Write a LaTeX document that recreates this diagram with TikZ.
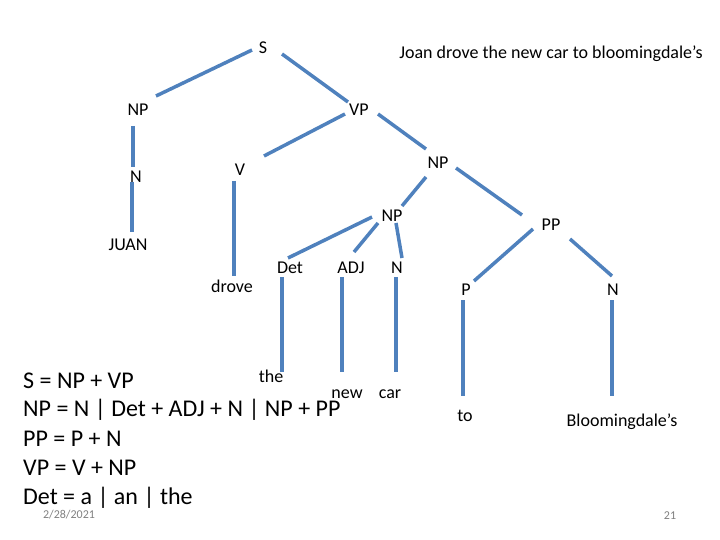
\documentclass[tikz,border=0pt]{standalone}
\usepackage{fontspec}
\setmainfont{Carlito}
\begin{document}
\begin{tikzpicture}[x=1pt,y=-1pt,
  lbl/.style={inner sep=0pt,font=\fontsize{18}{21}\selectfont},
  rule/.style={inner sep=0pt,anchor=west,font=\fontsize{24}{28}\selectfont},
  small/.style={inner sep=0pt,text=gray,font=\fontsize{12}{14}\selectfont},
  edge/.style={draw=treeblue,line width=3.5pt}]
\definecolor{treeblue}{HTML}{4F81BD}
\useasboundingbox (0,0) rectangle (720,540);
% labels
\node[lbl] (S) at (263,48) {S};
\node[lbl] (sent) at (551,54) {Joan drove the new car to bloomingdale’s};
\node[lbl] (NP1) at (138,110) {NP};
\node[lbl] (VP) at (359,110) {VP};
\node[lbl] (N1) at (136,177) {N};
\node[lbl] (V) at (240,170) {V};
\node[lbl] (NP2) at (438,163) {NP};
\node[lbl] (NP3) at (392,216) {NP};
\node[lbl] (PP) at (551,225) {PP};
\node[lbl] (juan) at (128,245) {JUAN};
\node[lbl] (drove) at (232,286) {drove};
\node[lbl] (Det) at (290,268) {Det};
\node[lbl] (ADJ) at (351,268) {ADJ};
\node[lbl] (N2) at (397,268) {N};
\node[lbl] (P) at (466,290) {P};
\node[lbl] (N3) at (613,290) {N};
\node[lbl] (the) at (271,376) {the};
\node[lbl] (new) at (347,394) {new};
\node[lbl] (car) at (390,394) {car};
\node[lbl] (to) at (465,416) {to};
\node[lbl] (bloom) at (622,422) {Bloomingdale’s};
% rules
\node[rule] (r1) at (23,381) {S = NP + VP};
\node[rule] (r2) at (23,410) {NP = N | Det + ADJ + N | NP + PP};
\node[rule] (r3) at (23,439) {PP = P + N};
\node[rule] (r4) at (23,468) {VP = V + NP};
\node[rule] (r5) at (23,498) {Det = a | an | the};
\node[small] (date) at (69,515) {2/28/2021};
\node[small] (page) at (670,516) {21};
% edge end points
\coordinate (a1) at (252,50);  \coordinate (b1) at (156,96);
\coordinate (a2) at (282,54);  \coordinate (b2) at (348,102);
\coordinate (a3) at (133,126); \coordinate (b3) at (133,167);
\coordinate (a4) at (345,114); \coordinate (b4) at (264,156);
\coordinate (a5) at (378,114); \coordinate (b5) at (426,149);
\coordinate (a6) at (132,182); \coordinate (b6) at (132,232);
\coordinate (a7) at (234,181); \coordinate (b7) at (234,276);
\coordinate (a8) at (426,177); \coordinate (b8) at (402,206);
\coordinate (a9) at (456,168); \coordinate (b9) at (522,215);
\coordinate (a10) at (372,217); \coordinate (b10) at (288,258);
\coordinate (a11) at (378,223); \coordinate (b11) at (354,252);
\coordinate (a12) at (396,223); \coordinate (b12) at (402,258);
\coordinate (a13) at (282,277); \coordinate (b13) at (282,372);
\coordinate (a14) at (342,277); \coordinate (b14) at (342,372);
\coordinate (a15) at (396,277); \coordinate (b15) at (396,372);
\coordinate (a16) at (533,229); \coordinate (b16) at (474,281);
\coordinate (a17) at (570,239); \coordinate (b17) at (612,276);
\coordinate (a18) at (463,300); \coordinate (b18) at (463,396);
\coordinate (a19) at (612,300); \coordinate (b19) at (612,396);
\foreach \i in {1,...,19} {\draw[edge] (a\i) -- (b\i);}
\end{tikzpicture}
\end{document}
